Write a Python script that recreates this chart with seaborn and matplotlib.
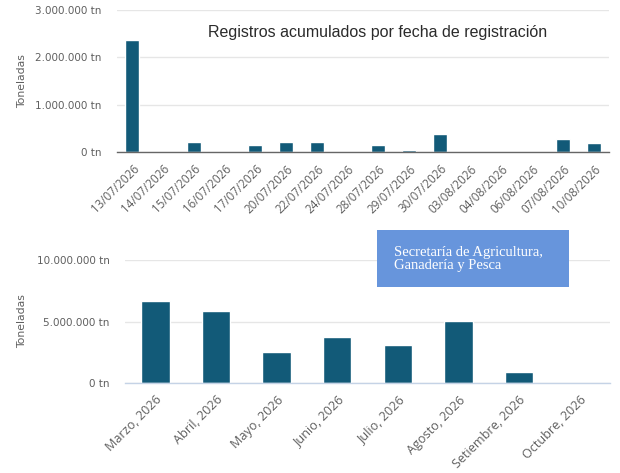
import matplotlib
matplotlib.use("Agg")
import matplotlib.pyplot as plt
from matplotlib.patches import Rectangle
from matplotlib.ticker import FuncFormatter
import pandas as pd
import seaborn as sns

# daily registrations (tn)
dates = ["13/07/2026", "14/07/2026", "15/07/2026", "16/07/2026", "17/07/2026",
         "20/07/2026", "22/07/2026", "24/07/2026", "28/07/2026", "29/07/2026",
         "30/07/2026", "03/08/2026", "04/08/2026", "06/08/2026", "07/08/2026",
         "10/08/2026"]
daily_tn = [2370000, 0, 220000, 0, 140000,
            220000, 220000, 0, 140000, 50000,
            370000, 0, 0, 0, 265000,
            200000]

# monthly totals (tn)
months = ["Marzo, 2026", "Abril, 2026", "Mayo, 2026", "Junio, 2026",
          "Julio, 2026", "Agosto, 2026", "Setiembre, 2026", "Octubre, 2026"]
monthly_tn = [6680000, 5860000, 2530000, 3750000,
              3100000, 5050000, 900000, 0]

bar_color = "#125a78"
grid_color = "#e6e6e6"
text_color = "#5f5f5f"

sns.set_style("white")
plt.rcParams["font.family"] = ["Open Sans", "DejaVu Sans"]


def tn_fmt(v, pos):
    return f"{int(round(v)):,}".replace(",", ".") + " tn"


def style_axes(ax, ymax, step, base_color, xsize):
    ax.set_ylim(0, ymax)
    ax.set_yticks(range(0, ymax + 1, step))
    ax.yaxis.set_major_formatter(FuncFormatter(tn_fmt))
    ax.grid(axis="y", color=grid_color, linewidth=1)
    ax.set_axisbelow(True)
    for s in ["top", "right", "left"]:
        ax.spines[s].set_visible(False)
    ax.spines["bottom"].set_color(base_color)
    ax.spines["bottom"].set_linewidth(1)
    ax.tick_params(axis="both", length=0, labelcolor=text_color)
    ax.tick_params(axis="y", pad=11)
    ax.tick_params(axis="x", pad=7.5, labelsize=xsize)
    for lbl in ax.get_yticklabels():
        lbl.set_family("DejaVu Sans")
        lbl.set_fontsize(7.5)
    ax.set_xlabel("")
    ax.set_ylabel("Toneladas", fontsize=7.8, color=text_color,
                  family="DejaVu Sans")
    for lbl in ax.get_xticklabels():
        lbl.set_rotation(45)
        lbl.set_ha("right")
        lbl.set_rotation_mode("anchor")


fig = plt.figure(figsize=(6.2, 4.73), dpi=100)

ax1 = fig.add_axes([117 / 620, 1 - 152 / 473, 492 / 620, 142 / 473])
df1 = pd.DataFrame({"fecha": dates, "tn": daily_tn})
sns.barplot(data=df1, x="fecha", y="tn", color=bar_color, width=0.46,
            saturation=1, ax=ax1)
style_axes(ax1, 3000000, 1000000, "#666666", 8.4)
ax1.yaxis.set_label_coords(-0.183, 0.5)

ax2 = fig.add_axes([125 / 620, 1 - 383 / 473, 485 / 620, 123 / 473])
df2 = pd.DataFrame({"mes": months, "tn": monthly_tn})
sns.barplot(data=df2, x="mes", y="tn", color=bar_color, width=0.47,
            saturation=1, ax=ax2)
style_axes(ax2, 10000000, 5000000, "#c5d3e6", 9.1)
ax2.yaxis.set_label_coords(-0.202, 0.5)

# title inside the top panel
fig.text(208 / 620, 1 - 32 / 473, "Registros acumulados por fecha de registración",
         family=["Liberation Sans", "DejaVu Sans"], fontsize=11.5,
         color="#2b2b2b", va="center", ha="left")

# source box
fig.patches.append(Rectangle((377 / 620, 1 - 287 / 473), 192 / 620, 57 / 473,
                             transform=fig.transFigure, facecolor="#6795dc",
                             edgecolor="none", zorder=5))
fig.text(394 / 620, 1 - 259 / 473, "Secretaría de Agricultura,\nGanadería y Pesca",
         family=["Liberation Serif", "DejaVu Serif"], fontsize=10.5,
         color="white", va="center", ha="left", linespacing=1.05, zorder=6)

fig.savefig("out.png", dpi=100)
